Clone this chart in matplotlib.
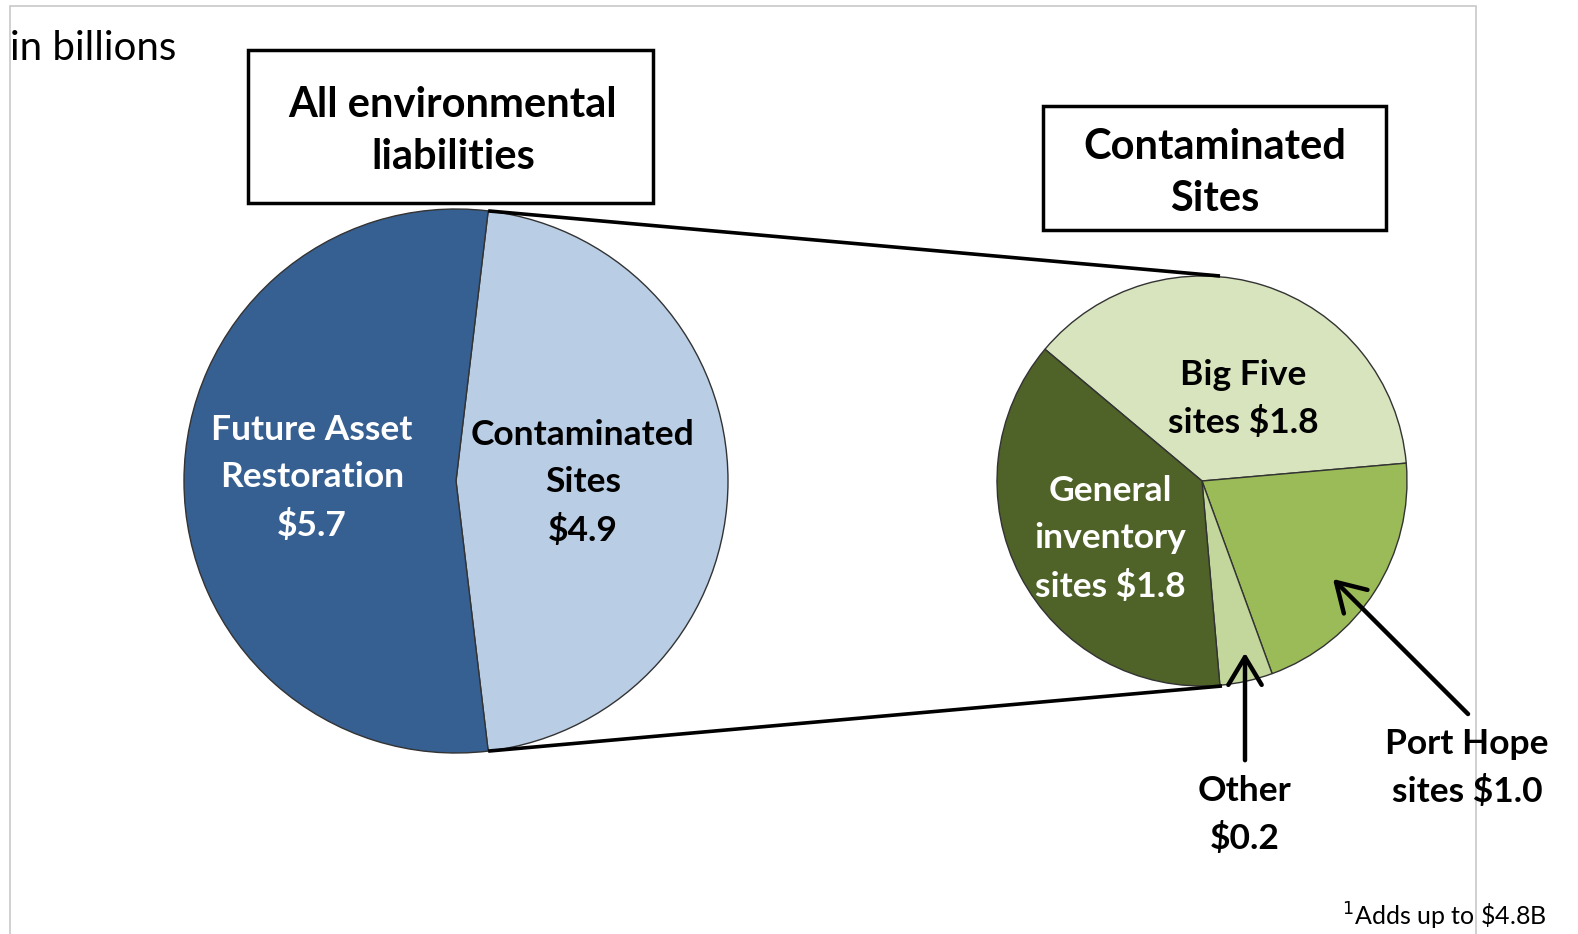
import matplotlib
matplotlib.use("Agg")
import matplotlib.pyplot as plt
import numpy as np
from matplotlib.patches import Rectangle, FancyArrowPatch

# Environmental liabilities, in billions
all_labels = ["Contaminated\nSites\n$4.9", "Future Asset\nRestoration\n$5.7"]
all_values = [4.9, 5.7]
all_colors = ["#B9CDE5", "#376092"]

cs_labels = ["Big Five\nsites $1.8", "Port Hope\nsites $1.0", "Other\n$0.2", "General\ninventory\nsites $1.8"]
cs_values = [1.8, 1.0, 0.2, 1.8]
cs_colors = ["#D7E4BD", "#9BBB59", "#C3D69B", "#4F6228"]

W, H = 1578, 934
FONT = "Lato"

fig = plt.figure(figsize=(W / 100, H / 100), dpi=100)
ax = fig.add_axes([0, 0, 1, 1])


def Y(y):
    return H - y


# outer frame
ax.add_patch(Rectangle((10, Y(960)), 1466, 954, fill=False, ec="#c8c8c8", lw=1.2))

# left pie: all environmental liabilities
c1 = (456, Y(481))
r1 = 272
share = all_values[0] / sum(all_values) * 360
ax.pie(all_values, colors=all_colors, startangle=share / 2, counterclock=False,
       center=c1, radius=r1, frame=True,
       wedgeprops=dict(edgecolor="#333333", linewidth=1.0))

# right pie: contaminated sites breakdown
c2 = (1202, Y(481))
r2 = 205
ax.pie(cs_values, colors=cs_colors, startangle=140, counterclock=False,
       center=c2, radius=r2, frame=True,
       wedgeprops=dict(edgecolor="#333333", linewidth=1.0))

# connector lines between the contaminated wedge and the breakdown pie
a_top = np.deg2rad(share / 2)
p_top = (c1[0] + r1 * np.cos(a_top), c1[1] + r1 * np.sin(a_top))
p_bot = (c1[0] + r1 * np.cos(-a_top), c1[1] + r1 * np.sin(-a_top))
ax.plot([p_top[0], 1220], [p_top[1], Y(276)], color="black", lw=2.6, zorder=5, solid_capstyle="butt")
ax.plot([p_bot[0], 1222], [p_bot[1], Y(686)], color="black", lw=2.6, zorder=5, solid_capstyle="butt")

# title boxes
ax.add_patch(Rectangle((248, Y(203)), 405, 153, fill=False, ec="black", lw=2.5))
ax.text(453, Y(131), "All environmental\nliabilities", ha="center", va="center",
        fontsize=30, fontweight="bold", family=FONT, linespacing=1.42)
ax.add_patch(Rectangle((1043, Y(230)), 343, 124, fill=False, ec="black", lw=2.5))
ax.text(1215, Y(173), "Contaminated\nSites", ha="center", va="center",
        fontsize=30, fontweight="bold", family=FONT, linespacing=1.42)

ax.text(10, Y(48), "in billions", ha="left", va="center", fontsize=29, family=FONT)

lab = dict(ha="center", va="center", fontsize=25.5, fontweight="bold", family=FONT, linespacing=1.58)
ax.text(312, Y(478), all_labels[1], color="white", **lab)
ax.text(583, Y(483), all_labels[0], color="black", **lab)
ax.text(1243, Y(399), cs_labels[0], color="black", **lab)
ax.text(1110, Y(539), cs_labels[3], color="white", **lab)
ax.text(1467, Y(768), cs_labels[1], color="black", **lab)
ax.text(1245, Y(815), cs_labels[2], color="black", **lab)

# callout arrows
for start, end in [((1245, Y(763)), (1245, Y(650))), ((1470, Y(716)), (1331, Y(577)))]:
    ax.add_patch(FancyArrowPatch(start, end, arrowstyle="->,head_length=10,head_width=6",
                                 color="black", lw=3.2, mutation_scale=2, zorder=6))

ax.text(1342, Y(932), "$^{1}$Adds up to \\$4.8B", ha="left", va="bottom", fontsize=18, family=FONT)

ax.set_xlim(0, W)
ax.set_ylim(0, H)
ax.set_aspect("equal")
ax.axis("off")
fig.savefig("out.png", dpi=100)
